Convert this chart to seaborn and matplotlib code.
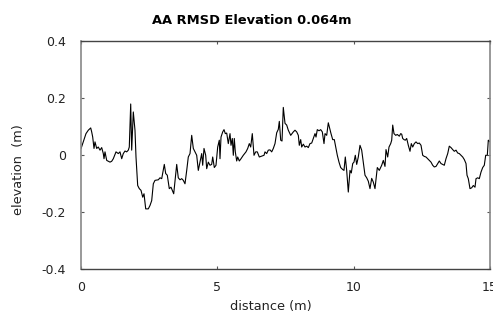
import matplotlib
matplotlib.use("Agg")
import matplotlib.pyplot as plt
import seaborn as sns
import pandas as pd

# Surveyed profile: distance along the transect (m) and elevation (m)
distance = [
    0.000, 0.183, 0.268, 0.356, 0.392, 0.429, 0.477, 0.513, 0.576, 0.634,
    0.697, 0.759, 0.818, 0.844, 0.880, 0.943, 1.064, 1.126, 1.185, 1.284,
    1.368, 1.430, 1.493, 1.551, 1.614, 1.676, 1.735, 1.771, 1.823, 1.859,
    1.918, 1.980, 2.017, 2.079, 2.138, 2.201, 2.263, 2.311, 2.373, 2.468,
    2.531, 2.593, 2.652, 2.714, 2.835, 2.897, 2.960, 3.055, 3.106, 3.165,
    3.238, 3.301, 3.400, 3.510, 3.568, 3.631, 3.693, 3.752, 3.814, 3.877,
    3.935, 3.998, 4.060, 4.119, 4.181, 4.243, 4.302, 4.364, 4.427, 4.463,
    4.511, 4.573, 4.610, 4.669, 4.731, 4.793, 4.830, 4.889, 4.951, 5.013,
    5.072, 5.098, 5.135, 5.197, 5.245, 5.292, 5.344, 5.402, 5.465, 5.501,
    5.549, 5.586, 5.622, 5.659, 5.710, 5.747, 5.806, 5.868, 5.952, 6.051,
    6.114, 6.172, 6.224, 6.282, 6.345, 6.407, 6.466, 6.539, 6.627, 6.712,
    6.748, 6.810, 6.869, 6.932, 6.994, 7.053, 7.115, 7.177, 7.236, 7.273,
    7.324, 7.372, 7.419, 7.482, 7.544, 7.603, 7.691, 7.786, 7.848, 7.911,
    7.970, 8.006, 8.057, 8.094, 8.153, 8.215, 8.277, 8.336, 8.398, 8.461,
    8.520, 8.582, 8.619, 8.666, 8.729, 8.791, 8.850, 8.912, 8.949, 9.011,
    9.070, 9.132, 9.169, 9.231, 9.290, 9.341, 9.400, 9.462, 9.524, 9.598,
    9.645, 9.693, 9.744, 9.803, 9.866, 9.913, 9.965, 10.012, 10.060, 10.111,
    10.170, 10.232, 10.294, 10.353, 10.416, 10.478, 10.537, 10.599, 10.661, 10.720,
    10.782, 10.867, 10.940, 11.028, 11.087, 11.149, 11.186, 11.248, 11.296, 11.358,
    11.395, 11.432, 11.479, 11.542, 11.600, 11.674, 11.725, 11.762, 11.798, 11.846,
    11.894, 11.945, 12.004, 12.066, 12.114, 12.165, 12.224, 12.286, 12.348, 12.407,
    12.470, 12.532, 12.591, 12.653, 12.715, 12.774, 12.836, 12.898, 12.957, 13.020,
    13.082, 13.141, 13.203, 13.265, 13.324, 13.386, 13.449, 13.507, 13.570, 13.632,
    13.691, 13.753, 13.815, 13.874, 13.937, 13.999, 14.058, 14.120, 14.157, 14.204,
    14.266, 14.329, 14.388, 14.450, 14.487, 14.549, 14.608, 14.670, 14.732, 14.791,
    14.842, 14.901, 14.938, 15.000,
]
elevation = [
    0.022, 0.075, 0.087, 0.095, 0.081, 0.063, 0.023, 0.046, 0.023, 0.028,
    0.017, 0.026, 0.005, -0.013, 0.011, -0.019, -0.025, -0.022, -0.013, 0.011,
    0.005, 0.011, -0.013, 0.005, 0.014, 0.011, 0.017, 0.028, 0.179, 0.017,
    0.151, 0.087, -0.007, -0.107, -0.118, -0.124, -0.148, -0.136, -0.189, -0.189,
    -0.177, -0.160, -0.101, -0.089, -0.087, -0.080, -0.083, -0.033, -0.065, -0.071,
    -0.118, -0.113, -0.136, -0.033, -0.080, -0.087, -0.083, -0.089, -0.101, -0.054,
    -0.007, 0.005, 0.069, 0.023, 0.011, -0.001, -0.054, -0.025, 0.005, -0.036,
    0.023, -0.001, -0.048, -0.025, -0.036, -0.033, -0.007, -0.044, -0.036, 0.028,
    0.052, -0.013, 0.063, 0.081, 0.089, 0.075, 0.077, 0.040, 0.075, 0.034,
    0.058, -0.001, 0.058, 0.011, -0.021, -0.007, -0.021, -0.013, -0.001, 0.011,
    0.023, 0.040, 0.028, 0.075, -0.001, 0.011, 0.011, -0.007, -0.004, -0.001,
    0.011, 0.005, 0.017, 0.018, 0.011, 0.023, 0.040, 0.078, 0.090, 0.118,
    0.052, 0.049, 0.167, 0.111, 0.105, 0.087, 0.069, 0.081, 0.087, 0.081,
    0.069, 0.034, 0.054, 0.028, 0.038, 0.028, 0.031, 0.026, 0.040, 0.042,
    0.058, 0.075, 0.063, 0.089, 0.085, 0.089, 0.081, 0.040, 0.075, 0.069,
    0.113, 0.089, 0.075, 0.054, 0.054, 0.028, -0.001, -0.025, -0.044, -0.051,
    -0.054, -0.007, -0.054, -0.130, -0.054, -0.063, -0.030, -0.025, -0.001, -0.033,
    -0.007, 0.034, 0.017, -0.025, -0.071, -0.080, -0.092, -0.118, -0.082, -0.095,
    -0.118, -0.044, -0.054, -0.036, -0.019, -0.040, 0.019, -0.007, 0.028, 0.040,
    0.052, 0.105, 0.075, 0.069, 0.072, 0.066, 0.075, 0.073, 0.058, 0.054,
    0.052, 0.058, 0.034, 0.013, 0.040, 0.028, 0.040, 0.046, 0.040, 0.042,
    0.034, -0.001, -0.005, -0.007, -0.013, -0.019, -0.025, -0.036, -0.042, -0.040,
    -0.030, -0.021, -0.030, -0.033, -0.036, -0.013, 0.005, 0.031, 0.026, 0.019,
    0.013, 0.017, 0.007, 0.005, -0.001, -0.007, -0.016, -0.030, -0.071, -0.083,
    -0.118, -0.115, -0.107, -0.113, -0.083, -0.080, -0.083, -0.060, -0.044, -0.036,
    -0.001, -0.001, 0.052, 0.046,
]

x_ticks = [0, 5, 10, 15]
y_ticks = [-0.4, -0.2, 0, 0.2, 0.4]
y_tick_labels = ["-0.4", "-0.2", "0", "0.2", "0.4"]

profile = pd.DataFrame({"distance": distance, "elevation": elevation})

sns.set_theme(style="white")
plt.rcParams["font.family"] = ["DejaVu Sans"]

W, H = 493, 322
fig = plt.figure(figsize=(W / 100, H / 100), dpi=100)
ax = fig.add_axes([81 / W, 1 - 269 / H, 409 / W, 228 / H])

sns.lineplot(data=profile, x="distance", y="elevation", ax=ax,
             sort=False, estimator=None, color="black", linewidth=0.8)

ax.set_xlim(0, 15)
ax.set_ylim(-0.4, 0.4)
ax.set_xticks(x_ticks)
ax.set_xticklabels([str(t) for t in x_ticks])
ax.set_yticks(y_ticks)
ax.set_yticklabels(y_tick_labels)

ax.tick_params(axis="both", which="both", direction="in", length=2.5,
               width=0.8, labelsize=9, colors="#555555", labelcolor="#222222",
               top=True, right=True, bottom=True, left=True)
ax.tick_params(axis="x", pad=8.5)
ax.tick_params(axis="y", pad=11)

for side in ("top", "bottom"):
    ax.spines[side].set_color("#444444")
    ax.spines[side].set_linewidth(1.0)
for side in ("left", "right"):
    ax.spines[side].set_color("#888888")
    ax.spines[side].set_linewidth(1.2)

ax.set_xlabel("distance (m)", fontsize=9.3, color="#222222", va="baseline")
ax.xaxis.set_label_coords((271 - 81) / 409, (269 - 310) / 228)
ax.set_ylabel("elevation  (m)", fontsize=9.3, color="#222222", va="center")
ax.yaxis.set_label_coords((19 - 81) / 409, (269 - 170) / 228)

fig.text(251.7 / W, 1 - 24 / H, "AA RMSD Elevation 0.064m",
         ha="center", va="baseline", fontsize=9.4, fontweight="bold",
         color="black")

fig.savefig("out.png", dpi=100, facecolor="white")
